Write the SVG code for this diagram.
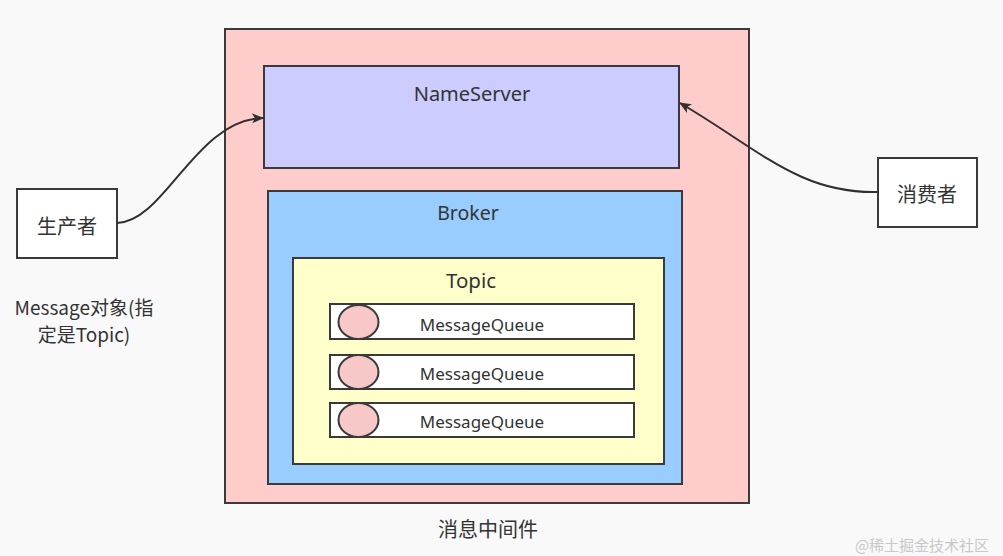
<svg xmlns="http://www.w3.org/2000/svg" width="1003" height="556" viewBox="0 0 1003 556">
<style>
.box{stroke:#3a3a3a;stroke-width:2}
.t{font-family:"Noto Sans","Noto Sans CJK SC",sans-serif;fill:#333;text-anchor:middle}
.cjk{font-family:"Noto Sans CJK SC",sans-serif;fill:#333;text-anchor:middle}
.edge{fill:none;stroke:#2f2f2f;stroke-width:2}
</style>
<defs>
<marker id="arr" viewBox="0 0 12 10" refX="11" refY="5" markerWidth="13" markerHeight="10" markerUnits="userSpaceOnUse" orient="auto">
<path d="M0,0 L12,5 L0,10 L3,5 Z" fill="#2f2f2f"/>
</marker>
</defs>
<rect width="1003" height="556" fill="#f9f9f9"/>
<g id="middleware">
<rect class="box" x="225" y="29" width="524" height="474" fill="#ffcccc"/>
<text class="cjk" x="488" y="537" font-size="20">消息中间件</text>
</g>
<g id="nameserver">
<rect class="box" x="264" y="66" width="415" height="102" fill="#ccccff"/>
<text class="t" x="472" y="101" font-size="20">NameServer</text>
</g>
<g id="broker">
<rect class="box" x="268" y="191" width="414" height="293" fill="#99ccff"/>
<text class="t" x="468" y="220" font-size="19.5">Broker</text>
</g>
<g id="topic">
<rect class="box" x="293" y="258" width="371" height="206" fill="#ffffcc"/>
<text class="t" x="471" y="288" font-size="20.5">Topic</text>
</g>
<g id="queue1">
<rect class="box" x="330" y="304" width="304" height="35" fill="#ffffff"/>
<ellipse class="box" cx="358.5" cy="322" rx="20" ry="17" fill="#f8c8c8"/>
<text class="t" x="482" y="331" font-size="17">MessageQueue</text>
</g>
<g id="queue2">
<rect class="box" x="330" y="355" width="304" height="34" fill="#ffffff"/>
<ellipse class="box" cx="358.5" cy="372" rx="20" ry="17" fill="#f8c8c8"/>
<text class="t" x="482" y="380" font-size="17">MessageQueue</text>
</g>
<g id="queue3">
<rect class="box" x="330" y="403" width="304" height="34" fill="#ffffff"/>
<ellipse class="box" cx="358.5" cy="420" rx="20" ry="17" fill="#f8c8c8"/>
<text class="t" x="482" y="428" font-size="17">MessageQueue</text>
</g>
<g id="producer">
<rect class="box" x="17" y="189" width="100" height="69" fill="#ffffff"/>
<text class="cjk" x="67" y="234" font-size="20">生产者</text>
</g>
<g id="consumer">
<rect class="box" x="878" y="158" width="99" height="69" fill="#ffffff"/>
<text class="cjk" x="927" y="202" font-size="20">消费者</text>
</g>
<g id="note">
<text class="cjk" x="84" y="315" font-size="19">Message对象(指</text>
<text class="cjk" x="84" y="342" font-size="19">定是Topic)</text>
</g>
<g id="connectors">
<path class="edge" d="M117,223 C165,222 195,120 263,118" marker-end="url(#arr)"/>
<path class="edge" d="M878,192 C800,194 760,150 680,103" marker-end="url(#arr)"/>
</g>
<text x="922" y="551" font-family="Noto Sans CJK SC,sans-serif" font-size="15" fill="#c8c8c8" text-anchor="middle">@稀土掘金技术社区</text>
</svg>
